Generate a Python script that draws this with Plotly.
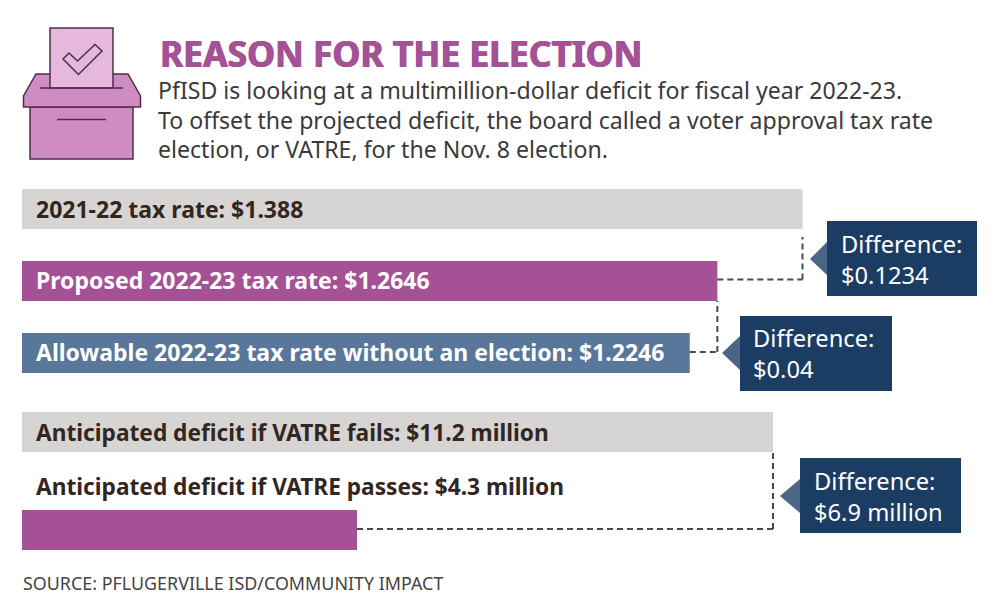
import plotly.graph_objects as go

W, H = 1000, 610

title = "REASON FOR THE ELECTION"
intro_lines = [
    "PfISD is looking at a multimillion-dollar deficit for fiscal year 2022-23.",
    "To offset the projected deficit, the board called a voter approval tax rate",
    "election, or VATRE, for the Nov. 8 election.",
]
source = "SOURCE: PFLUGERVILLE ISD/COMMUNITY IMPACT"

tax_labels = [
    "2021-22 tax rate: $1.388",
    "Proposed 2022-23 tax rate: $1.2646",
    "Allowable 2022-23 tax rate without an election: $1.2246",
]
tax_values = [1.388, 1.2646, 1.2246]

deficit_labels = [
    "Anticipated deficit if VATRE fails: $11.2 million",
    "Anticipated deficit if VATRE passes: $4.3 million",
]
deficit_values = [11.2, 4.3]

callout_lines = [
    ["Difference:", "$0.1234"],
    ["Difference:", "$0.04"],
    ["Difference:", "$6.9 million"],
]

GRAY = "#D6D5D3"
PURPLE = "#A45196"
BLUE = "#59779B"
NAVY = "#1C3D63"
NAVY_LIGHT = "#4A6585"
DARK = "#33261F"
ICON_LINE = "#4E2E4A"
DASH = "#3E4C5E"
FONT = "Noto Sans"


def px(x):
    return x / W


def py(y):
    return 1 - y / H


def poly(points):
    """SVG path in paper coords from pixel points."""
    return "M" + " L".join(f"{px(x):.5f},{py(y):.5f}" for x, y in points) + " Z"


def paper_shape(points, fill, line=None, width=1.5):
    return dict(
        type="path", xref="paper", yref="paper", path=poly(points), fillcolor=fill,
        line=dict(color=line or fill, width=width if line else 0),
    )


def paper_line(x0, y0, x1, y1, color=ICON_LINE, width=1.5):
    return dict(
        type="line", xref="paper", yref="paper", x0=px(x0), x1=px(x1), y0=py(y0), y1=py(y1),
        line=dict(color=color, width=width),
    )


def dashed(xref, x0, y0, x1, y1):
    # x is in data units, y in page pixels
    return dict(
        type="line", xref=xref, yref="paper", x0=x0, x1=x1, y0=py(y0), y1=py(y1),
        line=dict(color=DASH, width=2, dash="6px,4px"),
    )


def text(s, x, y, size, color=DARK, weight=400, shadow=None):
    # annotations carry about 2px of padding
    font = dict(family=FONT, size=size, color=color, weight=weight)
    if shadow:
        font["shadow"] = shadow
    return dict(
        text=s, xref="paper", yref="paper", x=px(x - 2), y=py(y), xanchor="left", yanchor="middle",
        align="left", showarrow=False, font=font,
    )


# both bar groups sit on truncated axes, the graphic does not start its bars at zero
tax_per_px = 1 / 690
tax_range = [tax_values[0] - 802.5 * tax_per_px, tax_values[0] + 197.5 * tax_per_px]
tax_base = tax_values[0] - 780.5 * tax_per_px

deficit_per_px = (deficit_values[0] - deficit_values[1]) / (773 - 357)
deficit_range = [deficit_values[0] - 773 * deficit_per_px, deficit_values[0] + 227 * deficit_per_px]
deficit_base = deficit_values[0] - 751 * deficit_per_px

fig = go.Figure()
fig.add_trace(go.Bar(
    x=[v - tax_base for v in tax_values], y=tax_labels, base=tax_base, orientation="h",
    width=40 / 72, marker=dict(color=[GRAY, PURPLE, BLUE], line_width=0), hoverinfo="skip",
    xaxis="x", yaxis="y",
))
fig.add_trace(go.Bar(
    x=[v - deficit_base for v in deficit_values], y=deficit_labels, base=deficit_base, orientation="h",
    width=40 / 98, marker=dict(color=[GRAY, PURPLE], line_width=0), hoverinfo="skip",
    xaxis="x2", yaxis="y2",
))

shapes = [
    # ballot box icon
    paper_shape([(30, 107), (133, 107), (133, 159), (30, 159)], "#CE8CC3", ICON_LINE),
    paper_shape([(23.5, 107), (23.5, 96), (36, 74), (128, 74), (140.5, 96), (140.5, 107)], "#CE8CC3", ICON_LINE),
    paper_shape([(50, 28), (113, 28), (113, 88), (50, 88)], "#E6B8DC", ICON_LINE),
    paper_shape([(63, 59), (69, 53), (77.5, 61), (95, 44.5), (102, 51), (78.5, 74.5)], "#E6B8DC", ICON_LINE),
    paper_line(40, 88, 123, 88),
    paper_line(57, 119.5, 106, 119.5),
    # connectors
    dashed("x", tax_values[1], 279.5, tax_values[0], 279.5),
    dashed("x", tax_values[0], 279.5, tax_values[0], 237),
    dashed("x", tax_values[2], 352, tax_values[1], 352),
    dashed("x", tax_values[1], 352, tax_values[1], 301),
    dashed("x2", deficit_values[1], 529, deficit_values[0], 529),
    dashed("x2", deficit_values[0], 529, deficit_values[0], 452),
    # callouts
    paper_shape([(810, 259), (827, 242), (827, 275)], NAVY_LIGHT),
    paper_shape([(827, 221), (977, 221), (977, 296), (827, 296)], NAVY),
    paper_shape([(722, 353), (740, 336), (740, 370)], NAVY_LIGHT),
    paper_shape([(740, 316), (892, 316), (892, 391), (740, 391)], NAVY),
    paper_shape([(780, 496), (800, 479), (800, 513)], NAVY_LIGHT),
    paper_shape([(800, 458), (961, 458), (961, 533), (800, 533)], NAVY),
]

# no black weight installed, thicken the bold with a tight shadow
title_shadow = f"0.6px 0 0 {PURPLE}, -0.6px 0 0 {PURPLE}"
annotations = [text(title, 160, 53, 35.4, PURPLE, 700, title_shadow)]
for line, y in zip(intro_lines, [90, 120, 149]):
    annotations.append(text(line, 158, y, 23.1, "#3A3A3A"))

for label, y, color in zip(tax_labels, [209, 280, 352], [DARK, "white", "white"]):
    annotations.append(text(label, 36, y, 23, color, 700))
for label, y in zip(deficit_labels, [432, 486]):
    annotations.append(text(label, 36, y, 22.7, DARK, 700))

for lines, x, y in zip(callout_lines, [841, 753, 814], [259.5, 353.5, 496.5]):
    annotations.append(text("<br>".join(lines), x, y, 23.7, "white"))

annotations.append(text(source, 23, 583, 17.9, "#444444"))

hidden = dict(visible=False, fixedrange=True)
fig.update_layout(
    width=W, height=H, margin=dict(l=0, r=0, t=0, b=0),
    paper_bgcolor="white", plot_bgcolor="rgba(0,0,0,0)", showlegend=False,
    xaxis=dict(hidden, domain=[0, 1], range=tax_range, anchor="y"),
    yaxis=dict(hidden, domain=[py(389), py(173)], range=[2.5, -0.5], anchor="x",
               categoryorder="array", categoryarray=tax_labels),
    xaxis2=dict(hidden, domain=[0, 1], range=deficit_range, anchor="y2"),
    yaxis2=dict(hidden, domain=[py(579), py(383)], range=[1.5, -0.5], anchor="x2",
                categoryorder="array", categoryarray=deficit_labels),
    shapes=shapes, annotations=annotations,
)

fig.write_html("out.html", config=dict(displayModeBar=False), post_script="document.body.style.margin='0';")
